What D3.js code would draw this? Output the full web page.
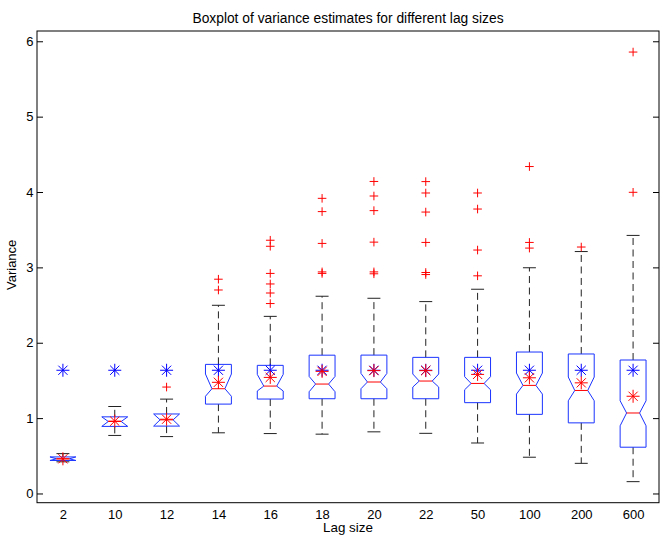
<!DOCTYPE html>
<html>
<head>
<meta charset="utf-8">
<script src="https://cdn.jsdelivr.net/npm/d3@7"></script>
<style>
  body { margin: 0; background: #fff; }
  svg text { font-family: "Liberation Sans", Arial, Helvetica, sans-serif; fill: #000; }
</style>
</head>
<body>
<div id="chart"></div>
<script>
const width = 664;
const height = 541;

// values
const lags = ['2', '10', '12', '14', '16', '18', '20', '22', '50', '100', '200', '600'];
const whiskerLo = [0.42, 0.77, 0.755, 0.805, 0.795, 0.787, 0.818, 0.798, 0.67, 0.481, 0.40, 0.157];
const q1 = [0.438, 0.89, 0.894, 1.186, 1.253, 1.257, 1.257, 1.257, 1.205, 1.05, 0.937, 0.614];
const medians = [0.46, 0.955, 0.977, 1.39, 1.425, 1.452, 1.479, 1.492, 1.46, 1.434, 1.367, 1.068];
const q3 = [0.485, 1.017, 1.055, 1.713, 1.70, 1.835, 1.836, 1.806, 1.806, 1.877, 1.851, 1.771];
const whiskerHi = [0.529, 1.154, 1.252, 2.497, 2.35, 2.617, 2.59, 2.546, 2.71, 2.995, 3.21, 3.424];
const notchLo = [0.438, 0.89, 0.894, 1.29, 1.36, 1.35, 1.39, 1.412, 1.376, 1.319, 1.23, 0.898];
const notchHi = [0.485, 1.017, 1.055, 1.585, 1.58, 1.553, 1.593, 1.585, 1.55, 1.598, 1.545, 1.23];
const outliers = [
    [],
    [],
    [1.412],
    [2.843, 2.70],
    [3.36, 3.28, 2.92, 2.78, 2.66, 2.52],
    [3.916, 3.74, 3.318, 2.94, 2.92],
    [4.14, 3.947, 3.753, 3.335, 2.94, 2.915],
    [4.138, 3.987, 3.734, 3.331, 2.932, 2.905],
    [3.987, 3.774, 3.23, 2.888],
    [4.338, 3.331, 3.256],
    [3.27],
    [5.857, 3.996]
];
const means = [0.46, 0.96, 0.985, 1.475, 1.54, 1.62, 1.63, 1.63, 1.58, 1.535, 1.468, 1.29];
const trueVar = [1.635, 1.635, 1.635, 1.635, 1.635, 1.635, 1.635, 1.635, 1.635, 1.635, 1.635, 1.635];
const yTicks = [0, 1, 2, 3, 4, 5, 6];

const plot = { left: 37, right: 659, top: 31, bottom: 502.7 };

document.addEventListener('DOMContentLoaded', function() {
    createVisualization();
});

function starPath(x, y, r) {
    const d = r * Math.SQRT1_2;
    return 'M' + (x - r) + ',' + y + 'H' + (x + r) +
           'M' + x + ',' + (y - r) + 'V' + (y + r) +
           'M' + (x - d) + ',' + (y - d) + 'L' + (x + d) + ',' + (y + d) +
           'M' + (x - d) + ',' + (y + d) + 'L' + (x + d) + ',' + (y - d);
}

function plusPath(x, y, r) {
    return 'M' + (x - r) + ',' + y + 'H' + (x + r) + 'M' + x + ',' + (y - r) + 'V' + (y + r);
}

function createVisualization() {
    let svg = d3.select('#chart')
              .append('svg')
              .attr('width', width)
              .attr('height', height);

    // y limits: data range padded by 5% like the original
    let allVals = whiskerLo.concat(whiskerHi, outliers.flat());
    let lo = d3.min(allVals), hi = d3.max(allVals);
    let pad = (hi - lo) * 0.049;

    const xScale = d3.scalePoint().domain(lags).range([plot.left, plot.right]).padding(0.5);
    const yScale = d3.scaleLinear().domain([lo - pad, hi + pad]).range([plot.bottom, plot.top]);
    const step = xScale.step();
    const hw = step * 0.25;

    // axes
    svg.append('g')
       .attr('transform', 'translate(' + plot.left + ',0)')
       .call(d3.axisLeft(yScale).tickValues(yTicks).tickFormat(d3.format('d'))
             .tickSizeInner(-6).tickSizeOuter(0).tickPadding(3.5))
       .call(g => g.select('.domain').remove())
       .call(g => g.selectAll('text').style('font-size', '13px'));
    svg.append('g')
       .attr('transform', 'translate(' + plot.right + ',0)')
       .call(d3.axisRight(yScale).tickValues(yTicks).tickFormat('')
             .tickSizeInner(-6).tickSizeOuter(0))
       .call(g => g.select('.domain').remove());
    svg.append('g')
       .attr('transform', 'translate(0,' + plot.bottom + ')')
       .call(d3.axisBottom(xScale).tickSize(0).tickPadding(6.8))
       .call(g => g.select('.domain').remove())
       .call(g => g.selectAll('text').style('font-size', '13px'));
    svg.selectAll('.tick line').attr('stroke', '#000');

    svg.append('rect')
       .attr('x', plot.left)
       .attr('y', plot.top)
       .attr('width', plot.right - plot.left)
       .attr('height', plot.bottom - plot.top)
       .attr('fill', 'none')
       .attr('stroke', '#000');

    // labels
    svg.append('text')
       .attr('x', (plot.left + plot.right) / 2)
       .attr('y', 22.5)
       .attr('text-anchor', 'middle')
       .style('font-size', '13.8px')
       .text('Boxplot of variance estimates for different lag sizes');
    svg.append('text')
       .attr('x', (plot.left + plot.right) / 2)
       .attr('y', 532)
       .attr('text-anchor', 'middle')
       .style('font-size', '13.4px')
       .text('Lag size');
    svg.append('text')
       .attr('x', -(plot.top + plot.bottom) / 2 + 2)
       .attr('y', 16)
       .attr('transform', 'rotate(-90)')
       .attr('text-anchor', 'middle')
       .style('font-size', '13px')
       .text('Variance');

    let boxes = svg.append('g')
                   .selectAll('g')
                   .data(lags)
                   .enter()
                   .append('g');

    // dashed whiskers
    boxes.append('line')
         .attr('x1', d => xScale(d)).attr('x2', d => xScale(d))
         .attr('y1', (d, i) => yScale(q3[i])).attr('y2', (d, i) => yScale(whiskerHi[i]))
         .attr('stroke', '#222').attr('stroke-dasharray', '7,4.5');
    boxes.append('line')
         .attr('x1', d => xScale(d)).attr('x2', d => xScale(d))
         .attr('y1', (d, i) => yScale(q1[i])).attr('y2', (d, i) => yScale(whiskerLo[i]))
         .attr('stroke', '#222').attr('stroke-dasharray', '7,4.5');
    // caps
    [whiskerHi, whiskerLo].forEach(arr => {
        boxes.append('line')
             .attr('x1', d => xScale(d) - hw / 2).attr('x2', d => xScale(d) + hw / 2)
             .attr('y1', (d, i) => yScale(arr[i])).attr('y2', (d, i) => yScale(arr[i]))
             .attr('stroke', '#222');
    });

    // notched boxes
    boxes.append('path')
         .attr('d', (d, i) => {
             let cx = xScale(d);
             let pts = [
                 [cx - hw, q3[i]], [cx + hw, q3[i]], [cx + hw, notchHi[i]], [cx + hw / 2, medians[i]],
                 [cx + hw, notchLo[i]], [cx + hw, q1[i]], [cx - hw, q1[i]], [cx - hw, notchLo[i]],
                 [cx - hw / 2, medians[i]], [cx - hw, notchHi[i]]
             ];
             return 'M' + pts.map(p => p[0] + ',' + yScale(p[1])).join('L') + 'Z';
         })
         .attr('fill', 'none')
         .attr('stroke', '#1a33ff');
    boxes.append('line')
         .attr('x1', d => xScale(d) - hw / 2).attr('x2', d => xScale(d) + hw / 2)
         .attr('y1', (d, i) => yScale(medians[i])).attr('y2', (d, i) => yScale(medians[i]))
         .attr('stroke', '#ff0000');

    // outliers
    boxes.selectAll('.outlier')
         .data((d, i) => outliers[i].map(v => [d, v]))
         .enter()
         .append('path')
         .attr('class', 'outlier')
         .attr('d', p => plusPath(xScale(p[0]), yScale(p[1]), 4.3))
         .attr('stroke', '#ff0000')
         .attr('fill', 'none');

    // true variance and mean estimate
    boxes.append('path')
         .attr('d', (d, i) => starPath(xScale(d), yScale(trueVar[i]), 6.5))
         .attr('stroke', '#0000ff')
         .attr('fill', 'none');
    boxes.append('path')
         .attr('d', (d, i) => starPath(xScale(d), yScale(means[i]), 6.5))
         .attr('stroke', '#ff0000')
         .attr('fill', 'none');
}
</script>
</body>
</html>
